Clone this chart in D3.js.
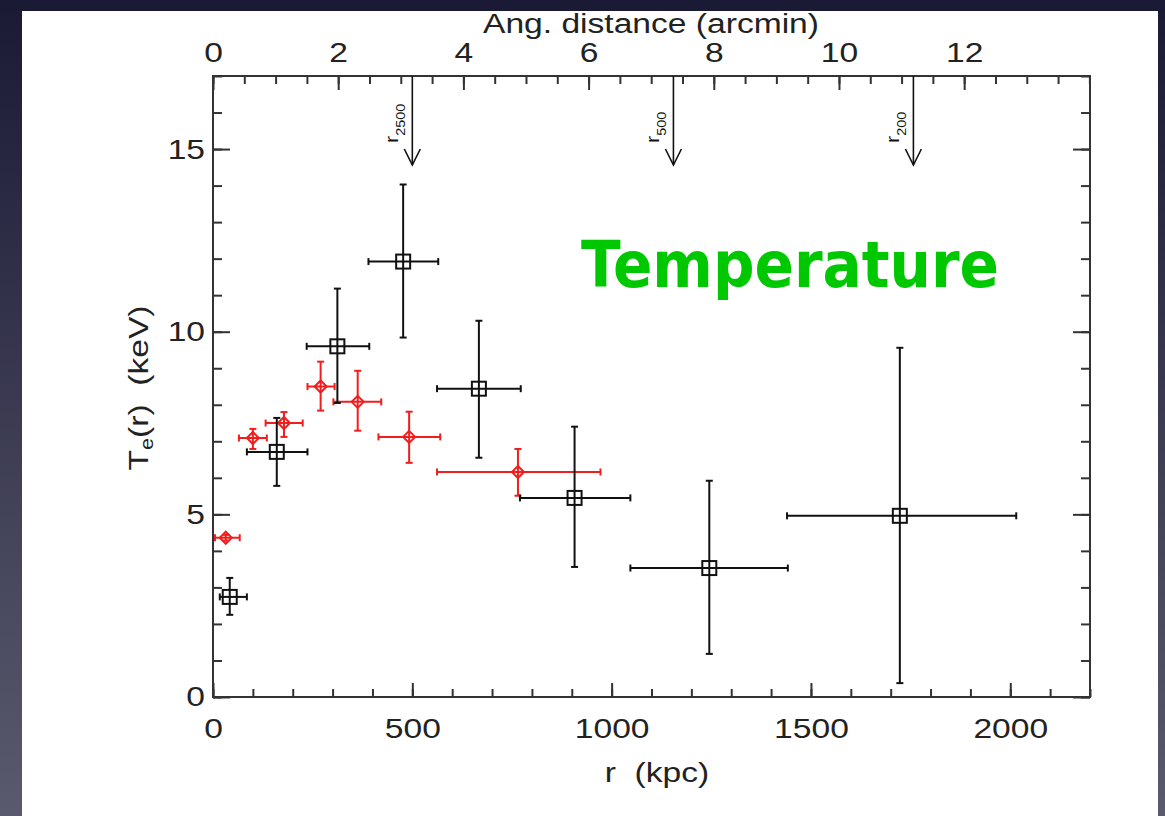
<!DOCTYPE html>
<html><head><meta charset="utf-8">
<script src="https://cdn.jsdelivr.net/npm/d3@7"></script>
<style>html,body{margin:0;padding:0;background:#1b1b34;}svg{display:block;}</style>
</head><body>
<script>
// ---- data ----
const chandraR   = [42, 160, 312, 477, 667, 907, 1245, 1723];
const chandraRLo = [17, 85, 235, 390, 562, 770, 1047, 1440];
const chandraRHi = [85, 237, 392, 565, 772, 1047, 1442, 2015];
const chandraT   = [2.74, 6.71, 9.60, 11.92, 8.44, 5.45, 3.53, 4.96];
const chandraTLo = [2.25, 5.78, 8.05, 9.84, 6.55, 3.56, 1.18, 0.38];
const chandraTHi = [3.26, 7.64, 11.18, 14.03, 10.30, 7.40, 5.92, 9.56];

const xmmR   = [32, 100, 178, 270, 363, 492, 765];
const xmmRLo = [5, 65, 132, 237, 302, 415, 562];
const xmmRHi = [67, 135, 225, 305, 422, 570, 972];
const xmmT   = [4.36, 7.09, 7.50, 8.50, 8.08, 7.12, 6.16];
const xmmTLo = [4.28, 6.79, 7.12, 7.84, 7.29, 6.41, 5.51];
const xmmTHi = [4.44, 7.34, 7.80, 9.18, 8.93, 7.81, 6.79];

const overdensityR     = [500, 1155, 1757];
const overdensityLabel = ["2500", "500", "200"];

const xTicks    = [0, 500, 1000, 1500, 2000];
const xMinor    = d3.range(0, 2201, 100);
const yTicks    = [0, 5, 10, 15];
const yMinor    = d3.range(0, 18, 1);
const topTicks  = [0, 2, 4, 6, 8, 10, 12];
const topMinor  = d3.range(0, 14.01, 0.5);

// ---- layout ----
const W = 1165, H = 816;
const svg = d3.select("body").append("svg").attr("width", W).attr("height", H);
const defs = svg.append("defs");
const grad = defs.append("linearGradient").attr("id", "bg").attr("x1", 0).attr("y1", 0).attr("x2", 0).attr("y2", 1);
grad.append("stop").attr("offset", "0%").attr("stop-color", "#1b1a35");
grad.append("stop").attr("offset", "100%").attr("stop-color", "#5a5a6e");
svg.append("rect").attr("width", W).attr("height", H).attr("fill", "url(#bg)");
svg.append("rect").attr("x", 22).attr("y", 11).attr("width", 1136).attr("height", H - 11).attr("fill", "#fff");

const x = d3.scaleLinear().domain([0, 2200]).range([213, 1090]);
const y = d3.scaleLinear().domain([0, 17]).range([697, 76]);
const xa = d3.scaleLinear().domain([0, 14.01]).range([213, 1090]);

const FONT = "'Liberation Sans', Arial, Helvetica, sans-serif";
const SX = 1.2; // horizontal stretch of the IDL-like font
const axisColor = "#333";

function styleAxis(g, fontSize) {
  g.select(".domain").remove();
  g.selectAll(".tick line").attr("stroke", axisColor).attr("stroke-width", 2);
  g.selectAll(".tick text").attr("fill", "#222").attr("font-family", FONT).attr("font-size", fontSize)
    .each(function () {
      const t = d3.select(this);
      const xx = +t.attr("x") || 0;
      t.attr("x", xx / SX).attr("transform", `scale(${SX},1)`);
    });
}

// minor ticks
svg.append("g").attr("transform", "translate(0,697)")
  .call(d3.axisBottom(x).tickValues(xMinor).tickSizeInner(-8).tickSizeOuter(0).tickFormat(""))
  .call(g => styleAxis(g, 0));
svg.append("g").attr("transform", "translate(213,0)")
  .call(d3.axisLeft(y).tickValues(yMinor).tickSizeInner(-9).tickSizeOuter(0).tickFormat(""))
  .call(g => styleAxis(g, 0));
svg.append("g").attr("transform", "translate(1090,0)")
  .call(d3.axisRight(y).tickValues(yMinor).tickSizeInner(-9).tickSizeOuter(0).tickFormat(""))
  .call(g => styleAxis(g, 0));
svg.append("g").attr("transform", "translate(0,76)")
  .call(d3.axisTop(xa).tickValues(topMinor).tickSizeInner(-8).tickSizeOuter(0).tickFormat(""))
  .call(g => styleAxis(g, 0));

// major ticks
svg.append("g").attr("transform", "translate(0,697)")
  .call(d3.axisBottom(x).tickValues(xTicks).tickSizeInner(-14).tickSizeOuter(0).tickPadding(21).tickFormat(d3.format("d")))
  .call(g => styleAxis(g, 28));
svg.append("g").attr("transform", "translate(213,0)")
  .call(d3.axisLeft(y).tickValues(yTicks).tickSizeInner(-17).tickSizeOuter(0).tickPadding(8).tickFormat(d3.format("d")))
  .call(g => styleAxis(g, 28));
svg.append("g").attr("transform", "translate(1090,0)")
  .call(d3.axisRight(y).tickValues(yTicks).tickSizeInner(-17).tickSizeOuter(0).tickFormat(""))
  .call(g => styleAxis(g, 0));
svg.append("g").attr("transform", "translate(0,76)")
  .call(d3.axisTop(xa).tickValues(topTicks).tickSizeInner(-14).tickSizeOuter(0).tickPadding(14).tickFormat(d3.format("d")))
  .call(g => styleAxis(g, 28));

// frame
svg.append("rect").attr("x", x(0)).attr("y", y(17)).attr("width", x(2200) - x(0)).attr("height", y(0) - y(17))
  .attr("fill", "none").attr("stroke", axisColor).attr("stroke-width", 2);

// axis titles
svg.append("text").attr("transform", `translate(651,33) scale(${SX},1)`).attr("text-anchor", "middle")
  .attr("font-family", FONT).attr("font-size", 28).attr("fill", "#222").text("Ang. distance (arcmin)");
svg.append("text").attr("transform", `translate(657,782) scale(${SX},1)`).attr("text-anchor", "middle")
  .attr("font-family", FONT).attr("font-size", 28).attr("fill", "#222").style("white-space", "pre").text("r  (kpc)");
const yl = svg.append("text").attr("transform", `translate(148,388) rotate(-90) scale(${SX},1)`).attr("text-anchor", "middle")
  .attr("font-family", FONT).attr("font-size", 28).attr("fill", "#222").style("white-space", "pre");
yl.append("tspan").text("T");
yl.append("tspan").attr("font-size", 18).attr("dy", 5).text("e");
yl.append("tspan").attr("dy", -5).text("(r)  (keV)");

// overdensity arrows
const arr = svg.append("g").attr("stroke", "#111").attr("stroke-width", 1.6).attr("fill", "none");
overdensityR.forEach((r, i) => {
  const px = x(r), top = y(17), tip = 165;
  arr.append("line").attr("x1", px).attr("x2", px).attr("y1", top).attr("y2", tip);
  arr.append("path").attr("d", `M${px - 8},${tip - 16}L${px},${tip}L${px + 8},${tip - 16}`);
  const t = svg.append("text").attr("transform", `translate(${px - 14},143) rotate(-90) scale(${SX},1)`)
    .attr("font-family", FONT).attr("font-size", 18).attr("fill", "#111");
  t.append("tspan").text("r");
  t.append("tspan").attr("font-size", 12).attr("dy", 7).text(overdensityLabel[i]);
});

// data drawing
function drawSeries(R, RLo, RHi, T, TLo, THi, color, marker) {
  const g = svg.append("g").attr("stroke", color).attr("stroke-width", 2).attr("fill", "none");
  R.forEach((r, i) => {
    const cx = x(r), cy = y(T[i]);
    const x0 = x(RLo[i]), x1 = x(RHi[i]), y0 = y(TLo[i]), y1 = y(THi[i]);
    g.append("line").attr("x1", x0).attr("x2", x1).attr("y1", cy).attr("y2", cy);
    g.append("line").attr("x1", x0).attr("x2", x0).attr("y1", cy - 3.5).attr("y2", cy + 3.5);
    g.append("line").attr("x1", x1).attr("x2", x1).attr("y1", cy - 3.5).attr("y2", cy + 3.5);
    g.append("line").attr("x1", cx).attr("x2", cx).attr("y1", y0).attr("y2", y1);
    g.append("line").attr("x1", cx - 3.5).attr("x2", cx + 3.5).attr("y1", y0).attr("y2", y0);
    g.append("line").attr("x1", cx - 3.5).attr("x2", cx + 3.5).attr("y1", y1).attr("y2", y1);
    if (marker === "square") {
      g.append("rect").attr("x", cx - 7).attr("y", cy - 7).attr("width", 14).attr("height", 14);
    } else {
      g.append("path").attr("d", `M${cx},${cy - 6}L${cx + 6},${cy}L${cx},${cy + 6}L${cx - 6},${cy}Z`);
    }
  });
}
drawSeries(xmmR, xmmRLo, xmmRHi, xmmT, xmmTLo, xmmTHi, "#f21d1d", "diamond");
drawSeries(chandraR, chandraRLo, chandraRHi, chandraT, chandraTLo, chandraTHi, "#111", "square");

// annotation
svg.append("text").attr("x", 581).attr("y", 287).attr("font-family", "'DejaVu Sans', Verdana, sans-serif")
  .attr("font-weight", "bold").attr("font-size", 64).attr("fill", "#00c800")
  .attr("textLength", 418).attr("lengthAdjust", "spacingAndGlyphs").text("Temperature");

// dark band over top edge (clips title like the reference)
svg.append("rect").attr("x", 0).attr("y", 0).attr("width", W).attr("height", 11).attr("fill", "#1b1a35");
</script>
</body></html>
